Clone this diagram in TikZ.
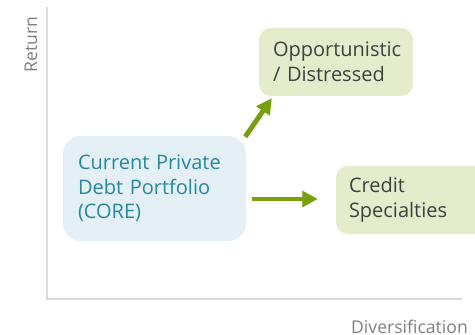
\documentclass[tikz,border=0pt]{standalone}
\usepackage{fontspec}
\setmainfont{Open Sans}
\usetikzlibrary{arrows.meta,calc}

\definecolor{coreFill}{RGB}{228,240,245}
\definecolor{coreText}{RGB}{36,136,164}
\definecolor{optFill}{RGB}{229,236,204}
\definecolor{optText}{RGB}{64,64,64}
\definecolor{axisLine}{RGB}{217,217,217}
\definecolor{axisText}{RGB}{128,128,128}
\definecolor{arrowGreen}{RGB}{119,161,8}

\tikzset{
  boxtext/.style={font=\fontsize{15pt}{18.4pt}\selectfont, align=left},
  corebox/.style={boxtext, fill=coreFill, text=coreText, rounded corners=13.5pt,
    minimum width=137.25pt, minimum height=78.75pt, text width=114.75pt, inner xsep=11.25pt},
  optbox/.style={boxtext, fill=optFill, text=optText, rounded corners=9pt,
    minimum height=51pt},
  axislabel/.style={font=\fontsize{13.2pt}{15pt}\selectfont, text=axisText, inner sep=0pt},
  growth/.style={draw=arrowGreen, line width=3.6pt,
    -{Triangle[width=11.5pt, length=11.5pt]}},
  growthshadow/.style={growth, draw=black, opacity=0.18, shift={(1.2,1.6)}},
}

\begin{document}
\begin{tikzpicture}[x=0.75pt, y=-0.75pt]
  \useasboundingbox (0,0) rectangle (475,335);

  % axes
  \coordinate (top) at (47,7);
  \coordinate (origin) at (47,299);
  \coordinate (right) at (462,299);
  \draw[axisLine, line width=1.5pt] (top) -- (origin) -- (right);
  \node[axislabel, rotate=90, anchor=base] (ylab) at (37,44.5) {Return};
  \node[axislabel, anchor=base] (xlab) at (409.5,333.5) {Diversification};

  % strategy boxes
  \node[corebox] (core) at (154.5,188.5)
    {Current Private\\Debt Portfolio\\(CORE)};
  \node[optbox, minimum width=115.5pt, text width=94.5pt, inner xsep=10.5pt]
    (opp) at (336,62) {Opportunistic\\/ Distressed};
  \node[optbox, minimum width=120pt, text width=100.5pt, inner xsep=9.75pt]
    (credit) at (416,200) {Credit\\Specialties};

  % moves away from the core portfolio, each with a soft shadow beneath
  \coordinate (upFrom) at ($(core.north east)+(-1,1)$);
  \coordinate (upTo) at ($(opp.south west)+(13,2)$);
  \coordinate (sideFrom) at ($(core.east)+(6,10.5)$);
  \coordinate (sideTo) at ($(credit.west)+(-18,-1)$);
  \draw[growthshadow] (upFrom) -- (upTo);
  \draw[growthshadow] (sideFrom) -- (sideTo);
  \draw[growth] (upFrom) -- (upTo);
  \draw[growth] (sideFrom) -- (sideTo);
\end{tikzpicture}
\end{document}
